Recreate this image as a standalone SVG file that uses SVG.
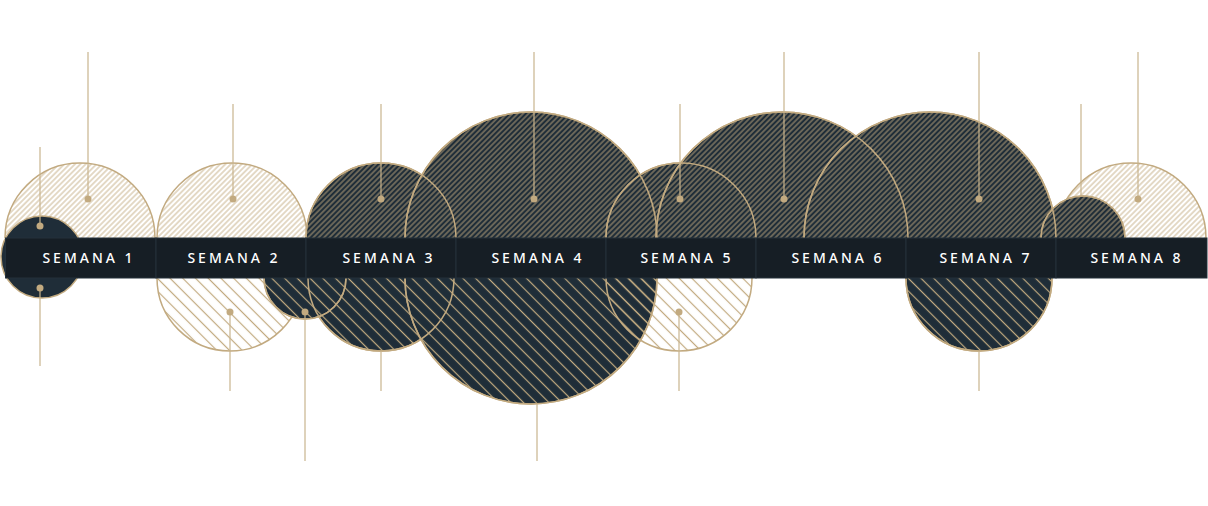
<svg xmlns="http://www.w3.org/2000/svg" width="1208" height="506" viewBox="0 0 1208 506">
<style>
.lt{fill:url(#fineL);stroke:#c2aa80;stroke-width:1.5}
.dt{fill:url(#fineD);stroke:#c2aa80;stroke-width:1.5}
.lb{fill:url(#coarseL);stroke:#c2aa80;stroke-width:1.5}
.db{fill:url(#coarseD);stroke:#c2aa80;stroke-width:1.5}
.plain{fill:#1f2d38;stroke:#c2aa80;stroke-width:1.5}
.o{fill:none;stroke:#c2aa80;stroke-width:1.5}
.ln{stroke:#c8b48e;stroke-width:1.2;fill:none}
.dot{fill:#c2aa80}
.cell{fill:#161e25;stroke:#24313b;stroke-width:1}
.lbl{font-family:"Noto Sans","Open Sans",sans-serif;font-size:14px;font-weight:500;letter-spacing:3px;fill:#ffffff;text-anchor:middle}
</style>
<defs>
<pattern id="fineL" patternUnits="userSpaceOnUse" width="3.8" height="10" patternTransform="rotate(45)">
<line x1="1.9" y1="-1" x2="1.9" y2="11" stroke="#c2aa80" stroke-width="0.9"/>
</pattern>
<pattern id="fineD" patternUnits="userSpaceOnUse" width="3.8" height="10" patternTransform="rotate(45)">
<rect x="-1" y="-1" width="6" height="12" fill="#1f2d38"/>
<line x1="1.9" y1="-1" x2="1.9" y2="11" stroke="#c2aa80" stroke-width="0.9"/>
</pattern>
<pattern id="coarseL" patternUnits="userSpaceOnUse" width="9" height="10" patternTransform="rotate(-45)">
<line x1="4.5" y1="-1" x2="4.5" y2="11" stroke="#c2aa80" stroke-width="1.2"/>
</pattern>
<pattern id="coarseD" patternUnits="userSpaceOnUse" width="9" height="10" patternTransform="rotate(-45)">
<rect x="-1" y="-1" width="11" height="12" fill="#1f2d38"/>
<line x1="4.5" y1="-1" x2="4.5" y2="11" stroke="#c2aa80" stroke-width="1.2"/>
</pattern>
<clipPath id="ct"><rect x="0" y="0" width="1208" height="238"/></clipPath>
<clipPath id="cb"><rect x="0" y="278" width="1208" height="228"/></clipPath>
</defs>

<g id="bubbles">
<g id="upper" clip-path="url(#ct)">
<circle id="b1-top" class="lt" cx="80" cy="238" r="75"/>
<circle id="b2-top" class="lt" cx="232" cy="238" r="75"/>
<circle id="b3-top" class="dt" cx="381" cy="238" r="75"/>
<circle id="b4-top" class="dt" cx="531" cy="238" r="126"/>
<circle id="b5-top" class="dt" cx="681" cy="238" r="75"/>
<circle id="b6-top" class="dt" cx="782" cy="238" r="126"/>
<circle id="b7-top" class="dt" cx="930" cy="238" r="126"/>
<circle id="b8-top" class="lt" cx="1131" cy="238" r="75"/>
<line class="ln" x1="1081" y1="104" x2="1081" y2="199"/>
<circle id="b8-top-small" class="dt" cx="1083" cy="238" r="42"/>
<circle class="o" cx="381" cy="238" r="75"/>
<circle class="o" cx="531" cy="238" r="126"/>
<circle class="o" cx="681" cy="238" r="75"/>
<circle class="o" cx="782" cy="238" r="126"/>
<circle class="o" cx="930" cy="238" r="126"/>
<circle class="o" cx="1083" cy="238" r="42"/>
</g>
<g id="lower" clip-path="url(#cb)">
<circle id="b2-bottom" class="lb" cx="230" cy="278" r="73"/>
<circle id="b3-bottom" class="db" cx="381" cy="278" r="73"/>
<circle id="b4-bottom" class="db" cx="531" cy="278" r="126"/>
<circle id="b5-bottom" class="lb" cx="679" cy="278" r="73"/>
<circle id="b7-bottom" class="db" cx="979" cy="278" r="73"/>
<circle id="b2-bottom-small" class="db" cx="305" cy="278" r="41"/>
<circle class="o" cx="381" cy="278" r="73"/>
<circle class="o" cx="531" cy="278" r="126"/>
<circle class="o" cx="979" cy="278" r="73"/>
<circle class="o" cx="305" cy="278" r="41"/>
</g>
<circle id="b1-full" class="plain" cx="42" cy="257" r="41"/>
</g>

<g id="connectors">
<line class="ln" x1="88" y1="52" x2="88" y2="199"/>
<line class="ln" x1="40" y1="147" x2="40" y2="226"/>
<line class="ln" x1="233" y1="104" x2="233" y2="199"/>
<line class="ln" x1="381" y1="104" x2="381" y2="199"/>
<line class="ln" x1="534" y1="52" x2="534" y2="199"/>
<line class="ln" x1="680" y1="104" x2="680" y2="199"/>
<line class="ln" x1="784" y1="52" x2="784" y2="199"/>
<line class="ln" x1="979" y1="52" x2="979" y2="199"/>
<line class="ln" x1="1138" y1="52" x2="1138" y2="199"/>
<line class="ln" x1="40" y1="288" x2="40" y2="366"/>
<line class="ln" x1="230" y1="312" x2="230" y2="391"/>
<line class="ln" x1="305" y1="312" x2="305" y2="461"/>
<line class="ln" x1="381" y1="351" x2="381" y2="391"/>
<line class="ln" x1="537" y1="404" x2="537" y2="461"/>
<line class="ln" x1="679" y1="312" x2="679" y2="391"/>
<line class="ln" x1="979" y1="351" x2="979" y2="391"/>
<circle class="dot" cx="88" cy="199" r="3.5"/>
<circle class="dot" cx="40" cy="226" r="3.5"/>
<circle class="dot" cx="233" cy="199" r="3.5"/>
<circle class="dot" cx="381" cy="199" r="3.5"/>
<circle class="dot" cx="534" cy="199" r="3.5"/>
<circle class="dot" cx="680" cy="199" r="3.5"/>
<circle class="dot" cx="784" cy="199" r="3.5"/>
<circle class="dot" cx="979" cy="199" r="3.5"/>
<circle class="dot" cx="1138" cy="199" r="3.5"/>
<circle class="dot" cx="40" cy="288" r="3.5"/>
<circle class="dot" cx="230" cy="312" r="3.5"/>
<circle class="dot" cx="305" cy="312" r="3.5"/>
<circle class="dot" cx="679" cy="312" r="3.5"/>
</g>

<g id="band">
<g id="week-1"><rect class="cell" x="5.5" y="238" width="150.5" height="40"/><text class="lbl" x="89" y="263">SEMANA 1</text></g>
<g id="week-2"><rect class="cell" x="156" y="238" width="150" height="40"/><text class="lbl" x="234" y="263">SEMANA 2</text></g>
<g id="week-3"><rect class="cell" x="306" y="238" width="150" height="40"/><text class="lbl" x="389" y="263">SEMANA 3</text></g>
<g id="week-4"><rect class="cell" x="456" y="238" width="150" height="40"/><text class="lbl" x="538" y="263">SEMANA 4</text></g>
<g id="week-5"><rect class="cell" x="606" y="238" width="150" height="40"/><text class="lbl" x="687" y="263">SEMANA 5</text></g>
<g id="week-6"><rect class="cell" x="756" y="238" width="150" height="40"/><text class="lbl" x="838" y="263">SEMANA 6</text></g>
<g id="week-7"><rect class="cell" x="906" y="238" width="150" height="40"/><text class="lbl" x="986" y="263">SEMANA 7</text></g>
<g id="week-8"><rect class="cell" x="1056" y="238" width="151" height="40"/><text class="lbl" x="1137" y="263">SEMANA 8</text></g>
</g>
</svg>
